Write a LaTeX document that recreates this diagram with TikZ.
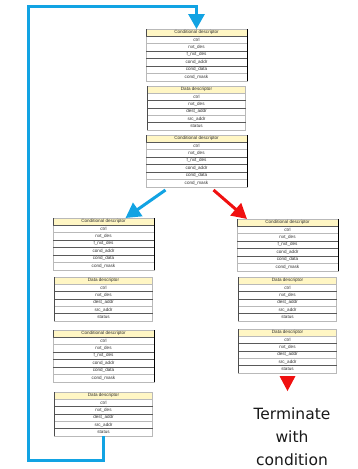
\documentclass[tikz,border=0pt]{standalone}
\usepackage{fontspec}
\setmainfont{Liberation Sans}
\newfontfamily\termfont{DejaVu Sans}
\usetikzlibrary{positioning,arrows.meta}
\definecolor{loopblue}{HTML}{12A3E3}
\definecolor{stopred}{HTML}{F01010}
\definecolor{hdryellow}{HTML}{FFF6C4}
\tikzset{
  desc/.style={draw=gray!55, line width=0.4pt, inner sep=0pt, outer sep=0pt, minimum height=7.5pt, font=\fontsize{4.6}{5}\selectfont, text=black!80},
  deschead/.style={desc, fill=hdryellow, minimum height=7pt},
  sepline/.style={line width=0.6pt, black!65},
  flow/.style={line width=3pt, -{Triangle[width=16pt,length=15pt]}},
}
% conditional descriptor: name, left, top
\newcommand{\condtab}[3]{%
  \node[deschead, minimum width=101pt, anchor=north west] (#1-0) at (#2,#3) {Conditional descriptor};
  \foreach \t [count=\i, remember=\i as \j (initially 0)] in {ctrl,nxt\_des,f\_nxt\_des,cond\_addr,cond\_data,cond\_mask}
    \node[desc, minimum width=101pt, below=0pt of #1-\j] (#1-\i) {\t};
  \foreach \k in {0,2,3,4}
    \draw[sepline] (#1-\k.south west) -- (#1-\k.south east);
  \draw[line width=0.9pt] (#1-0.north east) -- (#1-6.south east);
  \draw[line width=0.8pt, black!70] (#1-0.north west) -- (#1-0.south west);
}
% data descriptor: name, left, top
\newcommand{\datatab}[3]{%
  \node[deschead, minimum width=98pt, anchor=north west] (#1-0) at (#2,#3) {Data descriptor};
  \foreach \t [count=\i, remember=\i as \j (initially 0)] in {ctrl,nxt\_des,dest\_addr,src\_addr,status}
    \node[desc, minimum width=98pt, minimum height=7.4pt, below=0pt of #1-\j] (#1-\i) {\t};
  \foreach \k in {1,2,4}
    \draw[sepline] (#1-\k.south west) -- (#1-\k.south east);
  \draw[line width=0.6pt, black!70] (#1-0.north west) -- (#1-5.south west);
}
\begin{document}
\begin{tikzpicture}[x=1pt, y=-1pt, line join=miter]
\useasboundingbox (0,0) rectangle (358,469);
% middle column
\condtab{C1}{146}{29}
\datatab{D1}{147.5}{86}
\condtab{C2}{146}{135}
% left column (loop back)
\condtab{C3}{53}{218}
\datatab{D2}{54.5}{277}
\condtab{C4}{53}{330}
\datatab{D3}{54.5}{392}
% right column (terminate)
\condtab{C5}{237}{219}
\datatab{D4}{238.5}{277}
\datatab{D5}{238.5}{329}

% loop back to the start
\coordinate (loopbot) at (28,460);
\coordinate (looptop) at (28,6);
\draw[flow, loopblue] (D3-5.south) |- (loopbot) -- (looptop) -| (C1-0.north);

% branch
\coordinate (splitL) at ([xshift=-31pt,yshift=-3pt]C2-6.south);
\coordinate (splitR) at ([xshift=17pt,yshift=-3pt]C2-6.south);
\draw[flow, loopblue] (splitL) -- ([xshift=22pt]C3-0.north);
\draw[flow, stopred] (splitR) -- ([xshift=10pt]C5-0.north west);

% end of chain
\coordinate (stop) at ([yshift=-3pt]D5-5.south);
\fill[stopred] (stop) ++(-8,0) -- ++(16,0) -- ++(-8,15) -- cycle;
\node[font=\termfont\fontsize{15.5}{23}\selectfont, align=center, inner sep=0pt, anchor=north, text=black!90] (term) at (292,408) {Terminate\\with\\condition};
\end{tikzpicture}
\end{document}
